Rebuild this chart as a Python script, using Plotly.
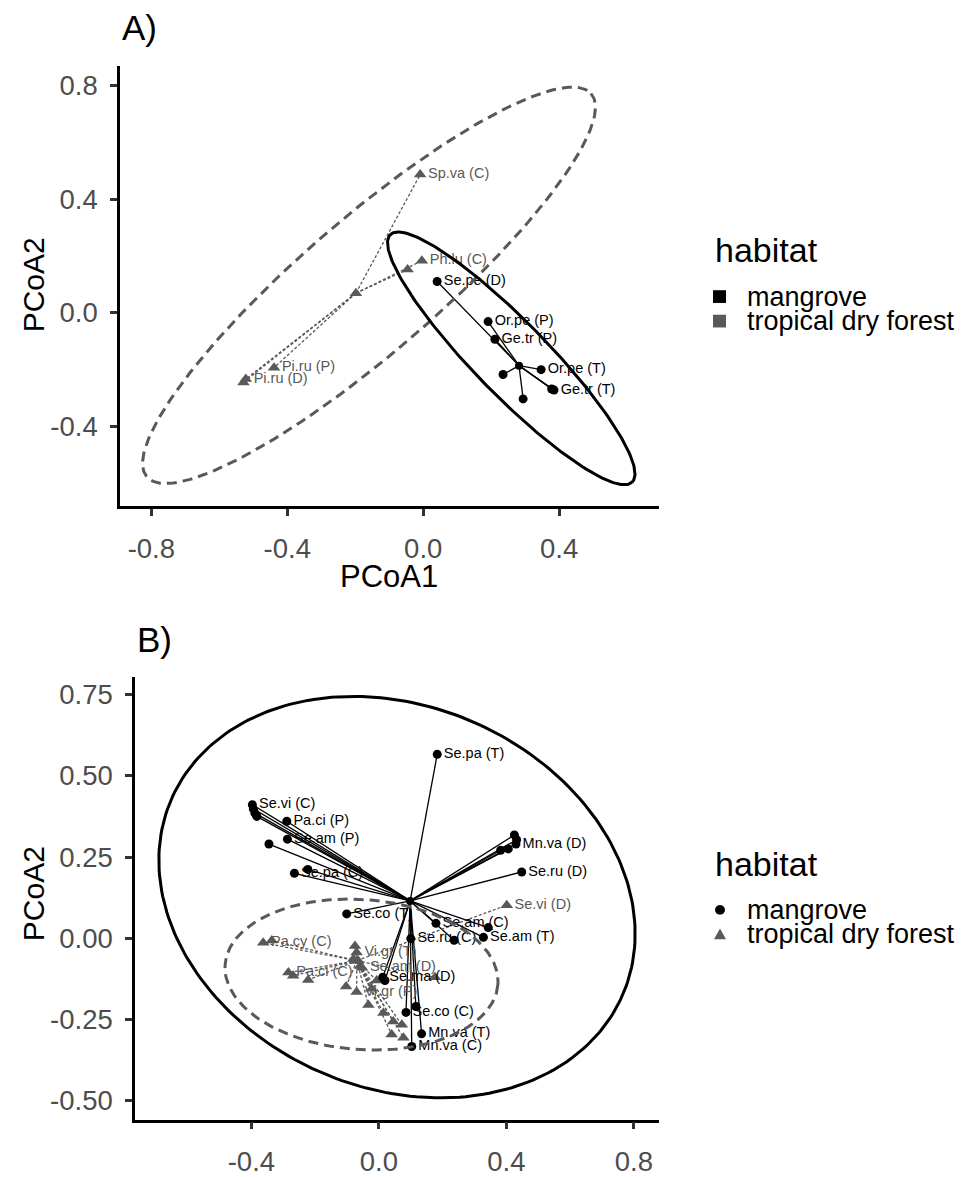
import numpy as np
import plotly.graph_objects as go

W, H = 964, 1177
BLACK = "#000000"
GREY = "#595959"
FONT = "Liberation Sans, Arial, sans-serif"

# ---------------- Panel A data ----------------
a_mang_x = [0.041, 0.191, 0.211, 0.347, 0.385, 0.378, 0.235, 0.294]
a_mang_y = [0.110, -0.031, -0.093, -0.200, -0.272, -0.268, -0.217, -0.303]
a_mang_lab = ["Se.pe (D)", "Or.pe (P)", "Ge.tr (P)", "Or.pe (T)", "Ge.tr (T)", "", "", ""]
a_mang_centroid = [0.282, -0.186]

a_tdf_x = [-0.009, -0.004, -0.046, -0.439, -0.522, -0.529]
a_tdf_y = [0.486, 0.183, 0.152, -0.193, -0.233, -0.245]
a_tdf_lab = ["Sp.va (C)", "Ph.lu (C)", "", "Pi.ru (P)", "Pi.ru (D)", ""]
a_tdf_centroid = [-0.198, 0.069]

# ellipse: centre, first and second semi-axis vectors (data units)
a_mang_ellipse = {"c": [0.2591, -0.1603], "u": [0.3555, -0.4355], "v": [-0.0787, -0.0882]}
a_tdf_ellipse = {"c": [-0.1595, 0.0966], "u": [0.6530, 0.6745], "v": [0.1324, -0.1759]}

a_xticks = [-0.8, -0.4, 0.0, 0.4]
a_xticklab = ["-0.8", "-0.4", "0.0", "0.4"]
a_yticks = [-0.4, 0.0, 0.4, 0.8]
a_yticklab = ["-0.4", "0.0", "0.4", "0.8"]

# ---------------- Panel B data ----------------
b_mang_x = [0.183, -0.397, -0.394, -0.389, -0.383, -0.289, -0.287, -0.345, -0.265, -0.223,
            0.425, 0.430, 0.432, 0.406, 0.382, 0.448, -0.101, 0.179, 0.343, 0.328,
            0.100, 0.236, 0.012, 0.019, 0.085, 0.116, 0.134, 0.103]
b_mang_y = [0.566, 0.411, 0.398, 0.385, 0.375, 0.360, 0.305, 0.290, 0.200, 0.212,
            0.318, 0.290, 0.303, 0.275, 0.271, 0.204, 0.075, 0.046, 0.033, 0.003,
            -0.001, -0.006, -0.120, -0.130, -0.228, -0.210, -0.294, -0.333]
b_mang_lab = ["Se.pa (T)", "Se.vi (C)", "", "", "", "Pa.ci (P)", "Se.am (P)", "", "Se.pa (C)", "",
              "", "Mn.va (D)", "", "", "", "Se.ru (D)", "Se.co (T)", "Se.am (C)", "", "Se.am (T)",
              "Se.ru (C)", "", "Se.ma (D)", "", "Se.co (C)", "", "Mn.va (T)", "Mn.va (C)"]
b_mang_centroid = [0.098, 0.115]

b_tdf_x = [0.401, -0.363, -0.336, -0.284, -0.269, -0.222, -0.075, -0.070, -0.080, -0.065,
           -0.059, -0.053, 0.176, -0.103, -0.070, -0.023, -0.007, -0.033, 0.014, 0.045,
           0.072, 0.040, 0.077]
b_tdf_y = [0.102, -0.014, -0.007, -0.105, -0.115, -0.128, -0.024, -0.044, -0.064, -0.069,
           -0.085, -0.091, -0.120, -0.148, -0.165, -0.155, -0.130, -0.205, -0.230, -0.256,
           -0.266, -0.296, -0.306]
b_tdf_lab = ["Se.vi (D)", "Pa.cy (C)", "", "Pa.ci (C)", "", "", "", "Vi.gr (T)", "", "",
             "", "Se.am (D)", "", "", "Vi.gr (P)", "", "", "", "", "",
             "", "", ""]
b_tdf_centroid = [-0.069, -0.069]

b_mang_ellipse = {"c": [0.0568, 0.1267], "u": [0.6996, -0.3189], "v": [-0.2623, -0.5288]}
b_tdf_ellipse = {"c": [-0.0546, -0.1116], "u": [0.4279, -0.0308], "v": [-0.0179, -0.2302]}

b_xticks = [-0.4, 0.0, 0.4, 0.8]
b_xticklab = ["-0.4", "0.0", "0.4", "0.8"]
b_yticks = [-0.5, -0.25, 0.0, 0.25, 0.5, 0.75]
b_yticklab = ["-0.50", "-0.25", "0.00", "0.25", "0.50", "0.75"]

legend_title = "habitat"
legend_labels = ["mangrove", "tropical dry forest"]


# ---------------- helpers ----------------
def px(x):
    return x / W


def py(y):
    return 1 - y / H


def ellipse(e, n=240):
    t = np.linspace(0, 2 * np.pi, n)
    x = e["c"][0] + e["u"][0] * np.cos(t) + e["v"][0] * np.sin(t)
    y = e["c"][1] + e["u"][1] * np.cos(t) + e["v"][1] * np.sin(t)
    return x, y


def spokes(xs, ys, c):
    sx, sy = [], []
    for x, y in zip(xs, ys):
        sx += [c[0], x, None]
        sy += [c[1], y, None]
    return sx, sy


fig = go.Figure()


def add_panel(xa, ya, mx, my, ml, mc, tx, ty, tl, tc, me, te):
    sx, sy = spokes(mx, my, mc)
    fig.add_trace(go.Scatter(x=sx, y=sy, mode="lines", xaxis=xa, yaxis=ya,
                             line=dict(color=BLACK, width=1.3), hoverinfo="skip", showlegend=False))
    sx, sy = spokes(tx, ty, tc)
    fig.add_trace(go.Scatter(x=sx, y=sy, mode="lines", xaxis=xa, yaxis=ya,
                             line=dict(color=GREY, width=1.3, dash="3px,2px"), hoverinfo="skip",
                             showlegend=False))
    fig.add_trace(go.Scatter(x=[mc[0]], y=[mc[1]], mode="markers", xaxis=xa, yaxis=ya,
                             marker=dict(symbol="circle", size=8, color=BLACK), showlegend=False))
    fig.add_trace(go.Scatter(x=[tc[0]], y=[tc[1]], mode="markers", xaxis=xa, yaxis=ya,
                             marker=dict(symbol="triangle-up", size=11, color=GREY), showlegend=False))
    fig.add_trace(go.Scatter(x=tx, y=ty, text=tl, mode="markers+text", xaxis=xa, yaxis=ya,
                             textposition="middle right",
                             textfont=dict(size=14.5, color=GREY, family=FONT),
                             marker=dict(symbol="triangle-up", size=11, color=GREY), showlegend=False))
    fig.add_trace(go.Scatter(x=mx, y=my, text=ml, mode="markers+text", xaxis=xa, yaxis=ya,
                             textposition="middle right",
                             textfont=dict(size=14.5, color=BLACK, family=FONT),
                             marker=dict(symbol="circle", size=9, color=BLACK), showlegend=False))
    ex, ey = ellipse(te)
    fig.add_trace(go.Scatter(x=ex, y=ey, mode="lines", xaxis=xa, yaxis=ya,
                             line=dict(color=GREY, width=3, dash="10px,6px"), hoverinfo="skip",
                             showlegend=False))
    ex, ey = ellipse(me)
    fig.add_trace(go.Scatter(x=ex, y=ey, mode="lines", xaxis=xa, yaxis=ya,
                             line=dict(color=BLACK, width=3), hoverinfo="skip", showlegend=False))


add_panel("x", "y", a_mang_x, a_mang_y, a_mang_lab, a_mang_centroid,
          a_tdf_x, a_tdf_y, a_tdf_lab, a_tdf_centroid, a_mang_ellipse, a_tdf_ellipse)
add_panel("x2", "y2", b_mang_x, b_mang_y, b_mang_lab, b_mang_centroid,
          b_tdf_x, b_tdf_y, b_tdf_lab, b_tdf_centroid, b_mang_ellipse, b_tdf_ellipse)


def axis(domain, rng, tv, tt, anchor, standoff):
    return dict(domain=domain, range=rng, anchor=anchor, showline=True, linecolor=BLACK,
                linewidth=2.5, ticks="outside", ticklen=7, tickwidth=2.5, tickcolor="#333333",
                tickvals=tv, ticktext=tt, tickfont=dict(size=27.5, color="#4d4d4d", family=FONT),
                ticklabelstandoff=standoff,
                showgrid=False, zeroline=False, fixedrange=True)


fig.update_layout(
    width=W, height=H, margin=dict(l=0, r=0, t=0, b=0),
    paper_bgcolor="white", plot_bgcolor="white", showlegend=False,
    font=dict(family=FONT, color=BLACK),
    xaxis=axis([px(120), px(659)], [-0.8923, 0.6939], a_xticks, a_xticklab, "y", 9),
    yaxis=axis([py(516.4), py(67)], [-0.6807, 0.869], a_yticks, a_yticklab, "x", 7),
    xaxis2=axis([px(135), px(659)], [-0.7652, 0.8788], b_xticks, b_xticklab, "y2", 9),
    yaxis2=axis([py(1142), py(690)], [-0.5581, 0.8054], b_yticks, b_yticklab, "x2", 7),
)

ann = []


def text(x, y, s, size, color=BLACK, xanchor="left", angle=0):
    ann.append(dict(x=px(x), y=py(y), xref="paper", yref="paper", text=s, showarrow=False,
                    xanchor=xanchor, yanchor="middle", textangle=angle,
                    font=dict(size=size, color=color, family=FONT)))


text(120, 28, "A)", 35)
text(135, 652, "B)", 35)
text(389, 588, "PCoA1", 31, xanchor="center")
text(33, 291, "PCoA2", 30, xanchor="center", angle=-90)
text(33, 912, "PCoA2", 30, xanchor="center", angle=-90)

text(713, 255, legend_title, 34)
text(745, 303, legend_labels[0], 27)
text(745, 327, legend_labels[1], 27)
text(713, 881, legend_title, 34)
text(745, 928, legend_labels[0], 27)
text(745, 953, legend_labels[1], 27)

shapes = [
    dict(type="rect", xref="paper", yref="paper", x0=px(713), x1=px(726), y0=py(309), y1=py(296),
         fillcolor=BLACK, line=dict(width=0)),
    dict(type="rect", xref="paper", yref="paper", x0=px(713), x1=px(726), y0=py(334), y1=py(321),
         fillcolor=GREY, line=dict(width=0)),
    dict(type="circle", xref="paper", yref="paper", x0=px(715), x1=px(725), y0=py(933), y1=py(923),
         fillcolor=BLACK, line=dict(width=0)),
    dict(type="path", xref="paper", yref="paper",
         path=f"M {px(714)},{py(958)} L {px(726)},{py(958)} L {px(720)},{py(947)} Z",
         fillcolor=GREY, line=dict(width=0)),
]

fig.update_layout(annotations=ann, shapes=shapes)
fig.write_html("out.html")
